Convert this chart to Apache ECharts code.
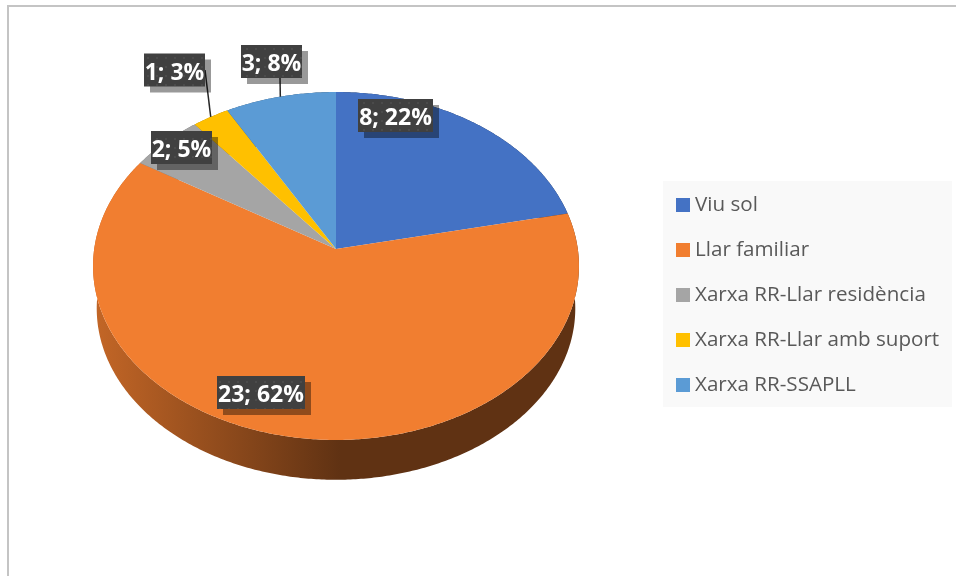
<!DOCTYPE html>
<html>
<head>
<meta charset="utf-8">
<style>
	html, body { margin: 0; padding: 0; background: #fff; }
	#chart { width: 956px; height: 576px; }
</style>
<script src="https://cdn.jsdelivr.net/npm/echarts@6/dist/echarts.min.js"></script>
</head>
<body>
<div id="chart"></div>
<script>
	var categories = ['Viu sol', 'Llar familiar', 'Xarxa RR-Llar residència', 'Xarxa RR-Llar amb suport', 'Xarxa RR-SSAPLL'];
	var values = [8, 23, 2, 1, 3];
	var colors = ['#4472C4', '#F17E30', '#A5A5A5', '#FFC000', '#5B9BD5'];

	var total = values.reduce(function(a, b) { return a + b; }, 0);

	// tilted pie: perspective projection of the unit circle
	var CX = 336, CY = 249, RX = 241.8, RY = 172.3, PERSP = 0.0977;
	var DEPTH = 43, DEPTH_SCALE = 0.985;

	function project(theta, f, dy) {
		var u = Math.sin(theta) * f;
		var v = -Math.cos(theta) * f;
		var w = 1 - PERSP * v;
		return [CX + RX * u / w, CY + (dy || 0) + RY * v / w];
	}

	function sliceRange(idx) {
		var before = 0;
		for (var i = 0; i < idx; i++) before += values[i];
		return [before / total * Math.PI * 2, (before + values[idx]) / total * Math.PI * 2];
	}

	function rim(a, b, f, dy) {
		var pts = [];
		var n = Math.max(2, Math.ceil((b - a) / 0.01));
		for (var i = 0; i <= n; i++) pts.push(project(a + (b - a) * i / n, f, dy));
		return pts;
	}

	function shade(hex, k) {
		var n = parseInt(hex.slice(1), 16);
		return 'rgb(' + Math.round((n >> 16) * k) + ',' + Math.round(((n >> 8) & 255) * k) + ',' + Math.round((n & 255) * k) + ')';
	}

	// 标签框的位置 (centre of each label box) and which ones have a leader line
	var labelCenters = [[395.5, 115.5], [261, 392.5], [181.5, 147.5], [174.5, 70], [271.5, 61.5]];
	var labelLeaders = [null, null, null, [205, 70], [280, 78]];

	var dots = document.createElement('canvas');
	dots.width = 9;
	dots.height = 9;
	var dotCtx = dots.getContext('2d');
	dotCtx.fillStyle = '#404040';
	dotCtx.fillRect(0, 0, 9, 9);
	dotCtx.fillStyle = '#4b4b4b';
	dotCtx.fillRect(3, 3, 2, 2);

	function renderSide(params, api) {
		var r = sliceRange(params.dataIndex);
		var c = colors[params.dataIndex];
		var pts = rim(r[0], r[1], 1, 0).concat(rim(r[0], r[1], DEPTH_SCALE, DEPTH).reverse());
		return {
			type: 'polygon',
			shape: { points: pts },
			style: {
				fill: new echarts.graphic.LinearGradient(100, 0, 340, 0, [
					{ offset: 0, color: shade(c, 0.8) },
					{ offset: 1, color: shade(c, 0.4) }
				], true)
			}
		};
	}

	function renderTop(idx) {
		return function(params, api) {
			var r = sliceRange(idx);
			return {
				type: 'polygon',
				shape: { points: [[CX, CY]].concat(rim(r[0], r[1], 1, 0)) },
				style: { fill: colors[idx] }
			};
		};
	}

	function renderLabel(params, api) {
		var idx = params.dataIndex;
		var v = api.value(0);
		var c = labelCenters[idx];
		var text = v + '; ' + Math.round(v / total * 100) + '%';
		var w = text.length > 5 ? (idx === 1 ? 88 : 75) : 61;
		var h = 33;
		var children = [];
		var from = labelLeaders[idx];
		if (from) {
			var r = sliceRange(idx);
			var end = project((r[0] + r[1]) / 2, 1, 0);
			children.push({
				type: 'line',
				shape: { x1: from[0], y1: from[1], x2: end[0], y2: end[1] },
				style: { stroke: '#262626', lineWidth: 1.5 }
			});
		}
		children.push({
			type: 'rect',
			shape: { x: c[0] - w / 2 + 6, y: c[1] - h / 2 + 6, width: w, height: h },
			style: { fill: 'rgba(0,0,0,0.4)' }
		});
		children.push({
			type: 'rect',
			shape: { x: c[0] - w / 2, y: c[1] - h / 2, width: w, height: h },
			style: { fill: { image: dots, repeat: 'repeat' } }
		});
		children.push({
			type: 'text',
			style: {
				x: c[0],
				y: c[1] + 3,
				text: text,
				fill: '#fff',
				font: 'bold 23px "Open Sans"',
				align: 'center',
				verticalAlign: 'middle'
			}
		});
		return { type: 'group', children: children };
	}

	var series = [{
		type: 'custom',
		name: 'side',
		coordinateSystem: 'none',
		silent: true,
		z: 1,
		renderItem: renderSide,
		data: values
	}];
	categories.forEach(function(name, i) {
		series.push({
			type: 'custom',
			name: name,
			coordinateSystem: 'none',
			silent: true,
			z: 2,
			color: colors[i],
			itemStyle: { color: colors[i] },
			renderItem: renderTop(i),
			data: [values[i]]
		});
	});
	series.push({
		type: 'custom',
		name: 'labels',
		coordinateSystem: 'none',
		silent: true,
		z: 5,
		renderItem: renderLabel,
		data: values
	});

	var chart = echarts.init(document.getElementById('chart'), null, { renderer: 'canvas' });
	chart.setOption({
		animation: false,
		backgroundColor: '#fff',
		graphic: [
			{ type: 'rect', shape: { x: 7, y: 5, width: 949, height: 2 }, style: { fill: '#c4c4c4' }, silent: true },
			{ type: 'rect', shape: { x: 7, y: 5, width: 2, height: 571 }, style: { fill: '#c4c4c4' }, silent: true },
			{ type: 'rect', z: -1, shape: { x: 663, y: 181, width: 289, height: 226 }, style: { fill: '#f9f9f9' }, silent: true }
		],
		legend: {
			data: categories,
			orient: 'vertical',
			left: 676,
			top: 193,
			padding: 0,
			icon: 'rect',
			itemWidth: 14,
			itemHeight: 14,
			itemGap: 21,
			selectedMode: false,
			textStyle: {
				color: '#595959',
				fontFamily: 'Open Sans',
				fontSize: 20.6,
				lineHeight: 24
			}
		},
		series: series
	});
</script>
</body>
</html>
